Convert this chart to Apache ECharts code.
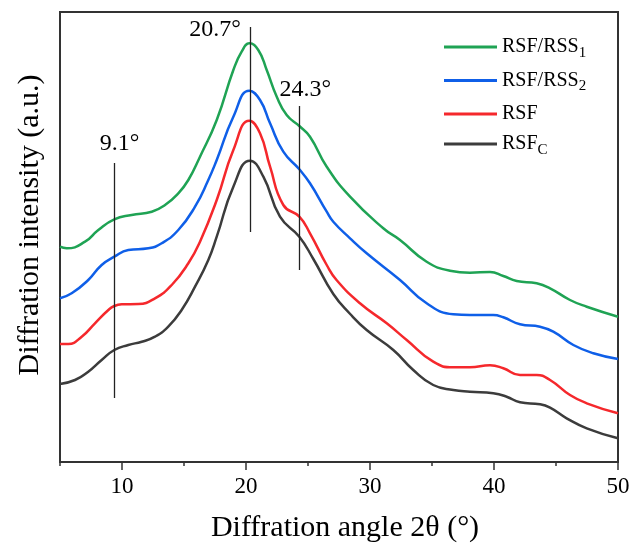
<!DOCTYPE html>
<html>
<head>
<meta charset="utf-8">
<script src="https://cdn.jsdelivr.net/npm/echarts@6/dist/echarts.min.js"></script>
<style>
  html, body { margin: 0; padding: 0; background: #fff; }
  #chart { width: 634px; height: 545px; }
</style>
</head>
<body>
<div id="chart"></div>
<script>
// [2θ (°), intensity (a.u.)]
const rssOne = [
  [5.0, 215.3], [5.54, 213.7], [7.02, 220.3], [8.09, 232], [9.38, 242.7],
  [10.78, 247], [12.4, 250.3], [13.47, 257], [14.54, 268.7], [15.35, 282],
  [16.29, 305.3], [17.64, 342], [18.98, 392], [19.65, 410.3], [20.27, 418.7],
  [20.99, 412], [21.67, 392], [22.48, 365.3], [23.28, 347], [24.3, 336],
  [25.16, 325.3], [26.51, 295.3], [28.39, 265.3], [31.07, 233.7], [32.42, 222],
  [34.57, 200.3], [36.45, 191.3], [38.06, 189.3], [39.68, 190], [40.75, 186],
  [41.83, 181], [43.44, 178.7], [44.52, 173.7], [46.13, 162], [47.48, 155.3],
  [50.0, 145.3]
];
const rssTwo = [
  [5.0, 163.7], [5.94, 168.7], [7.28, 182], [8.36, 197], [9.38, 205.3],
  [10.51, 212], [12.12, 213.7], [13.2, 218.7], [14.54, 232], [15.89, 255.3],
  [16.96, 282], [17.64, 302], [18.98, 345.3], [20.27, 371.3], [21.13, 362],
  [21.94, 338.7], [23.01, 310.3], [24.3, 292.7], [25.16, 278.7], [26.51, 250.3],
  [27.04, 240.3], [28.39, 223.7], [29.73, 208.7], [32.42, 182], [34.57, 158.7],
  [36.72, 147.7], [38.06, 147], [39.94, 147], [40.75, 144.7], [42.1, 137.7],
  [43.71, 135.3], [44.78, 130.3], [46.4, 117], [48.01, 108.7], [50.0, 103]
];
const rsf = [
  [5.0, 118], [5.67, 118], [6.75, 125.3], [7.82, 138.7], [8.9, 152],
  [9.38, 156], [9.98, 157.7], [11.31, 158], [12.66, 163.7], [14.01, 177],
  [15.35, 198.7], [16.29, 220.3], [17.64, 262], [18.98, 312], [20.27, 341.3],
  [21.13, 328.7], [21.94, 295.3], [23.01, 257], [24.3, 245.3], [25.16, 228.7],
  [26.51, 197], [27.3, 182], [29.19, 158.7], [31.35, 138.7], [32.96, 122],
  [35.1, 100.3], [36.72, 94.7], [38.06, 94.7], [39.68, 96.7], [40.75, 93.7],
  [42.1, 87], [43.44, 87], [44.52, 82], [46.13, 67], [47.48, 58.7], [50.0, 48.7]
];
const rsfC = [
  [5.0, 78], [6.21, 82], [7.28, 90.3], [8.36, 102], [9.38, 112],
  [10.51, 117], [11.59, 120.3], [12.66, 125.3], [13.73, 135.3], [14.81, 152],
  [15.89, 175.3], [16.96, 202], [17.64, 225.3], [18.98, 275.3], [20.32, 301.3],
  [21.4, 285.3], [22.74, 245.3], [24.3, 225.3], [25.43, 203], [27.04, 168],
  [28.4, 148], [29.73, 132], [31.88, 112], [33.49, 92], [35.1, 77],
  [36.72, 72], [38.06, 70.3], [39.94, 68.7], [41.02, 65.3], [42.1, 59.7],
  [43.71, 57.7], [44.52, 54.3], [45.86, 43.7], [47.48, 33.7], [50.0, 23.7]
];

const seriesNames = ["RSF/RSS1", "RSF/RSS2", "RSF", "RSFC"];
const seriesColors = ["#1fa354", "#0f5fe8", "#f5282c", "#3c3c3c"];

// peak guide lines: [position, bottom, top, label]
const peakLines = [
  [9.4, 64, 299, "9.1°"],
  [20.32, 230, 435, "20.7°"],
  [24.3, 192, 356, "24.3°"]
];
const peakLabelOffsets = [[5, -19], [-35, 3], [6, -16]];

const majorTicks = [10, 20, 30, 40, 50];
const minorTicks = [5, 15, 25, 35, 45];

const fontFamily = "Liberation Serif";

function legendLabel(name) {
  if (name === "RSF/RSS1") return "RSF/RSS{sub|1}";
  if (name === "RSF/RSS2") return "RSF/RSS{sub|2}";
  if (name === "RSFC") return "RSF{sub|C}";
  return name;
}

const chart = echarts.init(document.getElementById("chart"));

const guideData = peakLines.map(([x, y0, y1]) => [
  { coord: [x, y0], symbol: "none" },
  { coord: [x, y1], symbol: "none" }
]);

const guideLabels = peakLines.map(([x, , y1, text], i) => ({
  coord: [x, y1],
  symbol: "circle",
  symbolSize: 0,
  label: {
    show: true,
    formatter: text,
    offset: peakLabelOffsets[i],
    color: "#000",
    fontFamily,
    fontSize: 24
  }
}));

const dataList = [rssOne, rssTwo, rsf, rsfC];

const option = {
  animation: false,
  backgroundColor: "#fff",
  grid: {
    left: 60,
    right: 16,
    top: 12,
    bottom: 83,
    outerBoundsMode: "none",
    show: true,
    borderColor: "#333",
    borderWidth: 2
  },
  legend: {
    orient: "vertical",
    left: 439,
    top: 32,
    itemGap: 10,
    icon: "rect",
    itemWidth: 53,
    itemHeight: 3,
    data: seriesNames,
    formatter: legendLabel,
    textStyle: {
      color: "#000",
      fontFamily,
      fontSize: 20,
      rich: {
        sub: { fontFamily, fontSize: 15, color: "#000", padding: [12, 0, 0, 0] }
      }
    }
  },
  xAxis: [
    {
      type: "value",
      min: 5,
      max: 50,
      interval: 5,
      name: "Diffration angle 2θ (°)",
      nameLocation: "middle",
      nameGap: 51,
      nameTextStyle: { color: "#000", fontFamily, fontSize: 30, padding: [0, 0, 0, 12] },
      axisLine: { lineStyle: { color: "#333", width: 2 } },
      axisTick: {
        customValues: minorTicks,
        length: 4,
        lineStyle: { color: "#333", width: 1.5 }
      },
      axisLabel: {
        customValues: majorTicks,
        margin: 13,
        color: "#000",
        fontFamily,
        fontSize: 23
      },
      splitLine: { show: false }
    },
    {
      type: "value",
      min: 5,
      max: 50,
      position: "bottom",
      axisLine: { show: false },
      axisTick: {
        customValues: majorTicks,
        length: 8,
        lineStyle: { color: "#333", width: 1.5 }
      },
      axisLabel: { show: false },
      splitLine: { show: false }
    }
  ],
  yAxis: {
    type: "value",
    min: 0,
    max: 450,
    name: "Diffration intensity (a.u.)",
    nameLocation: "middle",
    nameGap: 15,
    nameTextStyle: {
      color: "#000",
      fontFamily,
      fontSize: 30,
      padding: [0, 0, 0, 24]
    },
    axisLine: { show: true, lineStyle: { color: "#333", width: 2 } },
    axisTick: { show: false },
    axisLabel: { show: false },
    splitLine: { show: false }
  },
  series: seriesNames.map((name, i) => {
    const s = {
      name,
      type: "line",
      data: dataList[i],
      smooth: 0.5,
      showSymbol: false,
      symbol: "none",
      color: seriesColors[i],
      lineStyle: { width: 2.5, color: seriesColors[i] },
      z: 3
    };
    if (i === 0) {
      s.markLine = {
        silent: true,
        symbol: ["none", "none"],
        lineStyle: { color: "#222", width: 1.3, type: "solid" },
        label: { show: false },
        data: guideData
      };
      s.markPoint = {
        silent: true,
        data: guideLabels
      };
    }
    return s;
  })
};

chart.setOption(option);
</script>
</body>
</html>
